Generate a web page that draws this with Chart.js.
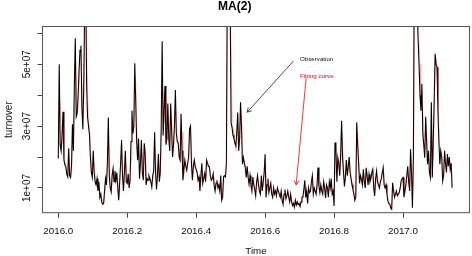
<!DOCTYPE html>
<html>
<head>
<meta charset="utf-8">
<script src="https://cdn.jsdelivr.net/npm/chart.js"></script>
<style>
  html, body { margin: 0; padding: 0; background: #fff; }
  #maChart { display: block; }
</style>
</head>
<body>
<canvas id="maChart" width="472" height="256"></canvas>
<script>
// daily series, starts 2016.0, frequency 365 (values in millions)
var startYear = 2016;
var frequency = 365;

var observed = [
    19.5, 50, 24, 22, 27, 34.6, 19,
    17.5, 16.8, 14.5, 13.6, 22.8, 14, 13.4,
    17, 30.6, 22, 43, 58.4, 33, 34,
    40, 48, 54.6, 56, 36, 29, 43.6,
    70, 78, 44, 33, 30, 27.4, 20,
    15, 13.4, 22, 15, 12, 11, 13,
    9, 12, 6.9, 8, 5.5, 4.7, 5,
    9, 13, 11, 18, 32.8, 14, 10,
    8.7, 14, 16.3, 12, 15.5, 12.5, 15,
    10, 6, 12, 18, 25.5, 14, 9,
    15, 22, 12, 11.5, 14.6, 10, 12.5,
    25, 35, 27.6, 30, 50.3, 38, 25,
    19, 26, 13, 18, 25.5, 15, 12.5,
    24.4, 21, 11, 13, 12.5, 14, 13,
    12, 10.3, 14, 15.5, 28, 15, 9.5,
    14, 21, 12, 15, 30, 57.4, 27,
    35, 43, 24, 26, 37.3, 26, 22,
    37.3, 29, 20, 24, 30, 41.7, 27.6,
    25, 24.4, 20, 19, 34, 22, 12.5,
    16, 19, 17, 15.7, 18, 20, 29,
    30, 18, 12.5, 17, 19, 16.8, 16,
    15, 12.5, 13.5, 9, 14, 18, 11.5,
    13, 14.6, 12, 19, 18, 17, 16.8,
    14, 12.5, 13, 14.6, 11, 9, 11.5,
    12.5, 10, 11, 9, 14, 6, 7,
    13.6, 14, 13.6, 18, 80, 95, 85,
    70, 31, 29.6, 27, 26, 24.5, 23.6,
    28, 34.4, 22, 26, 37.7, 30, 17.7,
    19.8, 18, 16.6, 13.4, 17, 13.5, 11.2,
    14, 11, 9, 13.5, 11, 9.5, 7.5,
    12, 14, 11, 9, 8, 14, 9,
    12, 15, 20.9, 6.9, 11, 13, 8.5,
    10, 11.5, 8, 7, 10, 8, 9,
    7.5, 10, 9, 8, 7, 9, 6,
    4.7, 8, 9.5, 6.5, 7.5, 9, 7,
    5.5, 8, 5.6, 4.3, 5, 3.8, 6,
    4.5, 5.5, 4.6, 5, 4, 5.5, 7,
    7, 9.5, 12.5, 6.9, 9, 5, 10,
    8.5, 9, 12, 14, 8, 10, 9,
    8, 11, 16.6, 10.5, 8.5, 11, 9,
    8, 12, 10, 6.8, 11, 10, 7,
    12, 10, 13, 8, 9, 4.2, 24.7,
    22, 12, 19.8, 18, 14, 21, 31.7,
    20, 15, 10.5, 13.5, 19, 14, 16.8,
    20, 15, 13, 11, 9.5, 8, 6,
    7, 31.2, 24, 18, 11.5, 14, 12.8,
    11, 16, 12, 10, 16.5, 14, 11,
    14.4, 12, 13, 15, 16, 10, 7.4,
    13, 15.5, 12, 11, 10, 12, 13,
    15, 16.6, 11, 10, 11, 8, 5.8,
    5, 4.7, 3.5, 3.1, 11.7, 9, 7,
    8, 9, 7.5, 8, 8.5, 10, 12.2,
    13, 13.4, 7, 9, 11, 14, 17,
    12, 9, 22.5, 15, 3.6, 20, 85,
    95, 90, 68, 58, 50, 40, 35,
    43.6, 27.4, 24, 19.8, 33, 25, 17.7,
    22, 15, 13.4, 37.7, 13.4, 25, 38,
    53.4, 50, 49, 35, 25, 17.7, 22,
    20, 12.3, 14, 22, 18, 15, 21,
    17, 20, 16, 18, 10.1
];

var fitted = [
    19.5, 30, 38, 24, 24, 30, 26,
    19, 17, 16, 14.5, 18, 18, 14,
    15, 24, 26, 33, 48, 45, 34,
    37, 42, 50, 54, 45, 33, 37,
    58, 72, 58, 40, 34, 30, 25,
    18, 15, 18, 18, 14, 12, 12,
    11, 11, 9, 8, 7, 5.5, 5,
    7, 11, 12, 15, 25, 23, 12,
    9.5, 11, 15, 14, 14, 14, 14,
    12, 8, 9, 15, 22, 19, 12,
    12, 18, 17, 12, 13, 12, 11.5,
    19, 30, 31, 29, 41, 44, 31,
    22, 23, 19, 16, 22, 20, 14,
    19, 23, 16, 12, 13, 13.5, 13.5,
    12.5, 11, 12, 15, 22, 21, 12,
    12, 17, 16, 14, 23, 44, 41,
    31, 39, 33, 25, 32, 31, 24,
    30, 33, 24, 22, 27, 36, 34,
    26, 25, 22, 19.5, 27, 28, 17,
    14, 17.5, 18, 16.5, 17, 19, 25,
    29, 24, 15, 15, 18, 18, 16.5,
    15.5, 14, 13, 11, 12, 16, 14.5,
    12.5, 14, 13, 16, 18.5, 17.5, 17,
    15, 13, 13, 14, 13, 10, 10.5,
    12, 11, 10.5, 10, 12, 10, 7,
    10.5, 14, 14, 16, 50, 85, 88,
    78, 52, 36, 29, 26, 25, 22,
    24, 30, 28, 24, 32, 34, 24,
    19, 19, 17.5, 15, 15, 15, 12.5,
    12.5, 12.5, 10, 11, 12, 10.5, 8.5,
    10, 13, 12.5, 10, 8.5, 11, 11.5,
    10.5, 13.5, 18, 14, 9, 12, 10.5,
    9, 11, 9.5, 7.5, 8.5, 9, 8.5,
    8, 9, 9.5, 8.5, 7.5, 8, 7.5,
    5.5, 6.5, 8.5, 8, 7, 8, 8,
    6.5, 7, 7, 5, 4.8, 4.5, 5,
    5, 5, 5, 4.8, 4.5, 4.8, 6,
    7, 8, 11, 9.5, 8, 7, 7.5,
    9, 8.8, 10.5, 13, 11, 9, 9.5,
    8.5, 9.5, 14, 13.5, 9.5, 10, 10,
    8.5, 10, 11, 8.5, 9, 10.5, 8.5,
    9.5, 11, 11.5, 10.5, 8.5, 6.5, 15,
    23, 17, 16, 19, 16, 18, 26,
    26, 17.5, 13, 12, 16, 16.5, 15.5,
    18, 17.5, 14, 12, 10.5, 9, 7,
    6.5, 19, 28, 21, 15, 13, 13.5,
    12, 13.5, 14, 11, 13.5, 15, 12.5,
    12.5, 13, 12.5, 14, 15.5, 13, 8.5,
    10, 14, 14, 11.5, 10.5, 11, 12.5,
    14, 16, 14, 10.5, 10.5, 9.5, 7,
    5.5, 5, 4, 3.3, 7.5, 10.5, 8,
    7.5, 8.5, 8.2, 7.8, 8.2, 9.3, 11,
    12.5, 13.2, 10, 8, 10, 12.5, 15.5,
    14.5, 10.5, 16, 19, 9, 12, 52,
    88, 92, 80, 65, 58, 50, 40,
    40, 35, 26, 22, 27, 29, 21,
    20, 18, 14, 26, 25, 19, 32,
    46, 52, 49, 42, 30, 21, 20,
    21, 16, 13, 18, 20, 16.5, 18,
    19, 18.5, 18, 17, 13
];

var xTicks = [2016.0, 2016.2, 2016.4, 2016.6, 2016.8, 2017.0];
var xTickLabels = ['2016.0', '2016.2', '2016.4', '2016.6', '2016.8', '2017.0'];
var yTicks = [10, 20, 30, 40, 50, 60];
var yTickLabels = ['1e+07', '', '3e+07', '', '5e+07', ''];

// text + arrows, in data coordinates
var notes = [
    {text: 'Observation', x: 2016.701, y: 51.7, color: '#111'},
    {text: 'Fitting curve', x: 2016.701, y: 46.0, color: '#f00'}
];
var arrows = [
    {x1: 2016.682, y1: 51.0, x2: 2016.548, y2: 34.5, color: '#222'},
    {x1: 2016.719, y1: 45.5, x2: 2016.690, y2: 11.0, color: '#f00'}
];

function toPoints(values) {
    return values.map(function (v, i) {
        return {x: startYear + i / frequency, y: v};
    });
}

var boxAndNotes = {
    id: 'boxAndNotes',
    afterDatasetsDraw: function (chart) {
        var ctx = chart.ctx;
        var a = chart.chartArea;
        var xs = chart.scales.x;
        var ys = chart.scales.y;
        ctx.save();
        ctx.strokeStyle = '#555';
        ctx.lineWidth = 1;
        ctx.strokeRect(a.left, a.top, a.right - a.left, a.bottom - a.top);

        arrows.forEach(function (ar) {
            var x1 = xs.getPixelForValue(ar.x1), y1 = ys.getPixelForValue(ar.y1);
            var x2 = xs.getPixelForValue(ar.x2), y2 = ys.getPixelForValue(ar.y2);
            var ang = Math.atan2(y2 - y1, x2 - x1);
            var len = 5;
            ctx.strokeStyle = ar.color;
            ctx.lineWidth = 0.8;
            ctx.beginPath();
            ctx.moveTo(x1, y1);
            ctx.lineTo(x2, y2);
            ctx.moveTo(x2 - len * Math.cos(ang - Math.PI / 6), y2 - len * Math.sin(ang - Math.PI / 6));
            ctx.lineTo(x2, y2);
            ctx.lineTo(x2 - len * Math.cos(ang + Math.PI / 6), y2 - len * Math.sin(ang + Math.PI / 6));
            ctx.stroke();
        });

        ctx.font = '6.2px "Liberation Sans", Arial, sans-serif';
        ctx.textAlign = 'left';
        ctx.textBaseline = 'middle';
        notes.forEach(function (n) {
            ctx.fillStyle = n.color;
            ctx.fillText(n.text, xs.getPixelForValue(n.x), ys.getPixelForValue(n.y));
        });
        ctx.restore();
    }
};

var ctx = document.getElementById('maChart').getContext('2d');
var maChart = new Chart(ctx, {
    type: 'line',
    data: {
        datasets: [{
            label: 'Observation',
            data: toPoints(observed),
            borderColor: '#000',
            borderWidth: 1.1,
            pointRadius: 0,
            tension: 0,
            order: 1
        }, {
            label: 'Fitting curve',
            data: toPoints(fitted),
            borderColor: 'rgba(255, 0, 0, 0.2)',
            borderWidth: 1,
            pointRadius: 0,
            tension: 0,
            order: 0
        }]
    },
    options: {
        responsive: false,
        animation: false,
        devicePixelRatio: 1,
        layout: {padding: {left: 0, right: 2.5, top: 0, bottom: 0}},
        plugins: {
            legend: {display: false},
            tooltip: {enabled: false},
            title: {
                display: true,
                text: 'MA(2)',
                color: '#000',
                font: {family: '"Liberation Sans", Arial, sans-serif', size: 12, weight: 'bold', lineHeight: 1.1},
                padding: {top: 0, bottom: 13.3}
            }
        },
        scales: {
            x: {
                type: 'linear',
                min: 2015.9542,
                max: 2017.1929,
                afterBuildTicks: function (scale) {
                    scale.ticks = xTicks.map(function (v) { return {value: v}; });
                },
                afterFit: function (scale) { scale.height = 43.3; },
                grid: {display: true, drawOnChartArea: false, drawTicks: true, tickLength: 5, tickColor: '#444'},
                border: {display: false},
                ticks: {
                    color: '#111',
                    padding: 8,
                    maxRotation: 0,
                    autoSkip: false,
                    font: {family: '"Liberation Sans", Arial, sans-serif', size: 9.8},
                    callback: function (v, i) { return xTickLabels[i]; }
                },
                title: {
                    display: true,
                    text: 'Time',
                    color: '#111',
                    font: {family: '"Liberation Sans", Arial, sans-serif', size: 9.8, lineHeight: 1},
                    padding: {top: 0, bottom: 0}
                }
            },
            y: {
                type: 'linear',
                min: 2.0,
                max: 62.2,
                afterBuildTicks: function (scale) {
                    scale.ticks = yTicks.map(function (v) { return {value: v}; });
                },
                afterFit: function (scale) { scale.width = 42.5; },
                grid: {display: true, drawOnChartArea: false, drawTicks: true, tickLength: 5, tickColor: '#444'},
                border: {display: false},
                ticks: {
                    color: '#111',
                    padding: -3.85,
                    minRotation: 90,
                    maxRotation: 90,
                    crossAlign: 'center',
                    autoSkip: false,
                    font: {family: '"Liberation Sans", Arial, sans-serif', size: 10},
                    callback: function (v, i) { return yTickLabels[i]; }
                },
                title: {
                    display: true,
                    text: 'turnover',
                    color: '#111',
                    font: {family: '"Liberation Sans", Arial, sans-serif', size: 10, lineHeight: 1},
                    padding: {top: 4.5, bottom: 0}
                }
            }
        }
    },
    plugins: [boxAndNotes]
});
</script>
</body>
</html>
